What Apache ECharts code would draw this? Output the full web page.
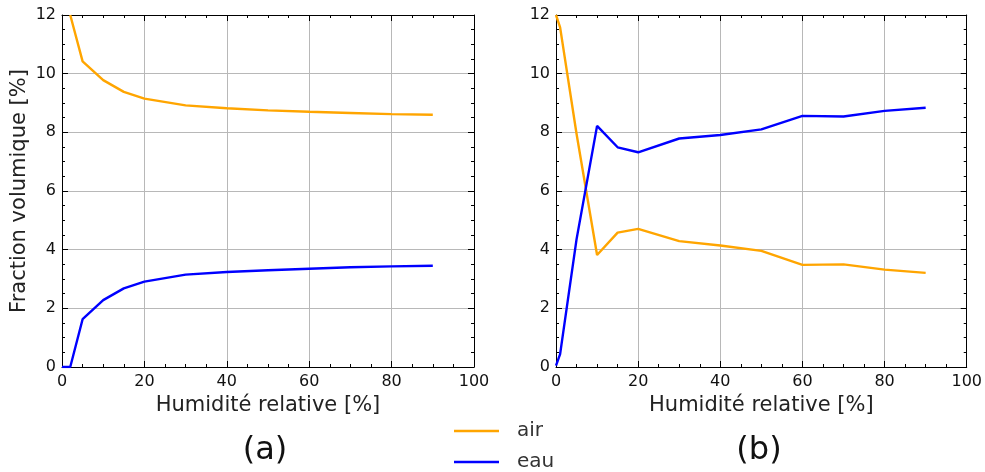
<!DOCTYPE html>
<html>
<head>
<meta charset="utf-8">
<script src="https://cdn.jsdelivr.net/npm/echarts@6/dist/echarts.min.js"></script>
<style>
html,body{margin:0;padding:0;background:#fff;}
#c{width:985px;height:472px;}
</style>
</head>
<body>
<div id="c"></div>
<script>
// ---- data ----
const hrLeft   = [0, 2, 5, 10, 15, 20, 30, 40, 50, 60, 70, 80, 90];
const airLeft  = [null, 12.0, 10.42, 9.78, 9.38, 9.15, 8.92, 8.82, 8.75, 8.70, 8.66, 8.62, 8.60];
const eauLeft  = [0.0, 0.0, 1.63, 2.28, 2.68, 2.91, 3.15, 3.24, 3.30, 3.35, 3.40, 3.43, 3.45];

const hrRight  = [0, 1, 5, 10, 15, 20, 30, 40, 50, 60, 70, 80, 90];
const airRight = [12.0, 11.58, 7.95, 3.82, 4.58, 4.71, 4.29, 4.14, 3.96, 3.48, 3.50, 3.32, 3.21];
const eauRight = [0.05, 0.44, 4.35, 8.22, 7.49, 7.32, 7.79, 7.91, 8.10, 8.56, 8.54, 8.73, 8.84];

const xTicks = [0, 20, 40, 60, 80, 100];
const yTicks = [0, 2, 4, 6, 8, 10, 12];
const seriesNames = ['air', 'eau'];
const panelLabels = ['(a)', '(b)'];
const xName = 'Humidité relative [%]';
const yName = 'Fraction volumique [%]';

// ---- build ----
const FONT = 'DejaVu Sans';
const pairs = (xs, ys) => xs.map((x, i) => [x, ys[i]]);

function xAx(grid, pos, withLabels) {
  return {
    type: 'value', gridIndex: grid, position: pos,
    min: xTicks[0], max: xTicks[xTicks.length - 1], interval: xTicks[1] - xTicks[0],
    axisLine: { show: true, onZero: false, lineStyle: { color: '#000', width: 1 } },
    axisTick: { show: true, inside: true, length: 6, lineStyle: { color: '#000' } },
    minorTick: { show: true, splitNumber: 4, length: 3, lineStyle: { color: '#000' } },
    splitLine: { show: withLabels, lineStyle: { color: '#b8b8b8', width: 1 } },
    axisLabel: { show: withLabels, fontFamily: FONT, fontSize: 16, color: '#111', margin: 7 },
    name: withLabels ? xName : '',
    nameLocation: 'middle', nameGap: 25,
    nameTextStyle: { fontFamily: FONT, fontSize: 21, color: '#222' }
  };
}
function yAx(grid, pos, withLabels, named) {
  return {
    type: 'value', gridIndex: grid, position: pos,
    min: yTicks[0], max: yTicks[yTicks.length - 1], interval: yTicks[1] - yTicks[0],
    axisLine: { show: true, onZero: false, lineStyle: { color: '#000', width: 1 } },
    axisTick: { show: true, inside: true, length: 6, lineStyle: { color: '#000' } },
    minorTick: { show: true, splitNumber: 4, length: 3, lineStyle: { color: '#000' } },
    splitLine: { show: withLabels, lineStyle: { color: '#b8b8b8', width: 1 } },
    axisLabel: { show: withLabels, fontFamily: FONT, fontSize: 16, color: '#111', margin: 6 },
    name: named ? yName : '',
    nameLocation: 'middle', nameGap: 32,
    nameTextStyle: { fontFamily: FONT, fontSize: 21, color: '#222' }
  };
}
function line(name, xi, yi, data, color) {
  return {
    name, type: 'line', xAxisIndex: xi, yAxisIndex: yi, data,
    symbol: 'none', clip: true, connectNulls: false,
    lineStyle: { color, width: 2.4 }, itemStyle: { color }, z: 5
  };
}

const chart = echarts.init(document.getElementById('c'), null, { renderer: 'canvas' });
chart.setOption({
  backgroundColor: '#fff',
  animation: false,
  grid: [
    { left: 62, top: 15, width: 412, height: 352 },
    { left: 556, top: 15, width: 411, height: 352 }
  ],
  xAxis: [xAx(0, 'bottom', true), xAx(0, 'top', false), xAx(1, 'bottom', true), xAx(1, 'top', false)],
  yAxis: [yAx(0, 'left', true, true), yAx(0, 'right', false, false), yAx(1, 'left', true, false), yAx(1, 'right', false, false)],
  legend: {
    data: seriesNames,
    orient: 'vertical',
    left: 454, top: 420, height: 80, padding: 0,
    icon: 'rect',
    itemWidth: 45, itemHeight: 2.5, itemGap: 9,
    textStyle: { fontFamily: FONT, fontSize: 20, color: '#333', lineHeight: 22, padding: [0, 0, 0, 13] }
  },
  series: [
    line(seriesNames[0], 0, 0, pairs(hrLeft, airLeft), '#FFA500'),
    line(seriesNames[1], 0, 0, pairs(hrLeft, eauLeft), '#0000FF'),
    line(seriesNames[0], 2, 2, pairs(hrRight, airRight), '#FFA500'),
    line(seriesNames[1], 2, 2, pairs(hrRight, eauRight), '#0000FF')
  ],
  graphic: [
    { type: 'text', x: 265, y: 451, style: { text: panelLabels[0], font: '32px "DejaVu Sans"', fill: '#111', align: 'center', verticalAlign: 'middle' } },
    { type: 'text', x: 759, y: 451, style: { text: panelLabels[1], font: '32px "DejaVu Sans"', fill: '#111', align: 'center', verticalAlign: 'middle' } }
  ]
});
</script>
</body>
</html>
